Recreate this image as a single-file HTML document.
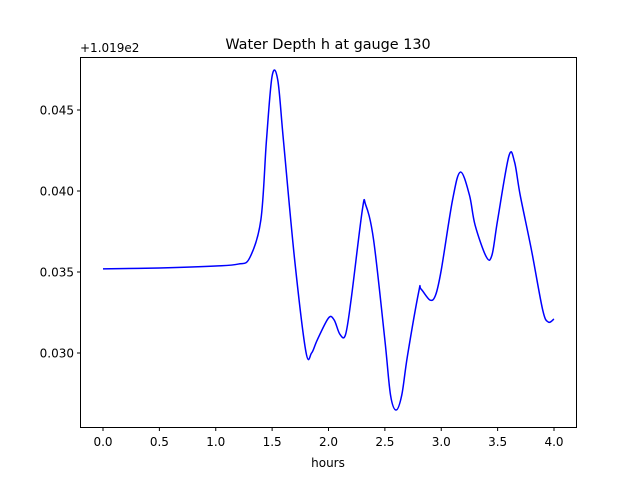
<!DOCTYPE html>
<html><head><meta charset="utf-8"><style>
body{margin:0;background:#fff}
svg{display:block;font-family:"DejaVu Sans","Liberation Sans",sans-serif}
</style></head><body>
<svg id="chart" width="640" height="480">
<rect width="640" height="480" fill="#fff"/>
<text x="328" y="49" text-anchor="middle" font-size="14.4">Water Depth h at gauge 130</text>
<text x="80" y="52" font-size="12">+1.019e2</text>
<g id="ticks"></g>
<path id="line" fill="none" stroke="#0000ff" stroke-width="1.5"/>
<rect x="80.5" y="57.5" width="496" height="370" fill="none" stroke="#000" stroke-width="1"/>
<text x="328" y="467" text-anchor="middle" font-size="12">hours</text>
</svg>
<script>
const hours=[0,0.5,1.0,1.2,1.3,1.4,1.45,1.5,1.55,1.6,1.7,1.8,1.85,1.9,2.0,2.05,2.1,2.15,2.2,2.3,2.33,2.4,2.5,2.55,2.6,2.65,2.7,2.8,2.82,2.9,2.95,3.0,3.1,3.17,3.25,3.3,3.4,3.45,3.5,3.6,3.65,3.7,3.8,3.9,3.95,4.0];
const depth=[0.03519,0.03525,0.03537,0.03549,0.03586,0.03821,0.04315,0.0471,0.04685,0.04315,0.03574,0.03006,0.0300,0.0308,0.03216,0.03204,0.03117,0.03111,0.03327,0.03883,0.03914,0.03698,0.0308,0.02741,0.02648,0.02741,0.02981,0.03377,0.03395,0.03327,0.03358,0.03512,0.03944,0.04117,0.03975,0.0379,0.03593,0.03605,0.03821,0.04216,0.04179,0.03975,0.03636,0.03265,0.03191,0.0321];
const xTicks=[0,0.5,1.0,1.5,2.0,2.5,3.0,3.5,4.0];
const xTickLabels=["0.0","0.5","1.0","1.5","2.0","2.5","3.0","3.5","4.0"];
const yTicks=[0.030,0.035,0.040,0.045];
const yTickLabels=["0.030","0.035","0.040","0.045"];
const X=v=>103+v*112.75;
const Y=v=>353-(v-0.030)*16200;
const NS="http://www.w3.org/2000/svg";
const g=document.getElementById('ticks');
function mk(t,a){const e=document.createElementNS(NS,t);for(const k in a)e.setAttribute(k,a[k]);return e;}
xTicks.forEach((t,i)=>{
 const l=mk('line',{x1:X(t),x2:X(t),y1:427.5,y2:431,stroke:'#000'});
 
 
 g.appendChild(l);
 const tx=mk('text',{x:X(t),y:446,'text-anchor':'middle','font-size':12});
 tx.textContent=xTickLabels[i];
 
 
 g.appendChild(tx);
});
yTicks.forEach((t,i)=>{
 const l=mk('line',{x1:77,x2:80.5,y1:Y(t),y2:Y(t),stroke:'#000'});
 
 
 g.appendChild(l);
 const tx=mk('text',{x:74,y:Y(t)+4.5,'text-anchor':'end','font-size':12});
 tx.textContent=yTickLabels[i];
 
 
 g.appendChild(tx);
});
const p=hours.map((h,i)=>[X(h),Y(depth[i])]);
let d='M'+p[0][0]+','+p[0][1];
for(let i=0;i<p.length-1;i++){
 const p0=p[i-1]||p[i],p1=p[i],p2=p[i+1],p3=p[i+2]||p[i+1];
 const c1=[p1[0]+(p2[0]-p0[0])/6,p1[1]+(p2[1]-p0[1])/6];
 const c2=[p2[0]-(p3[0]-p1[0])/6,p2[1]-(p3[1]-p1[1])/6];
 d+=`C${c1[0]},${c1[1]} ${c2[0]},${c2[1]} ${p2[0]},${p2[1]}`;
}
document.getElementById('line').setAttribute('d',d);
</script>
</body></html>
